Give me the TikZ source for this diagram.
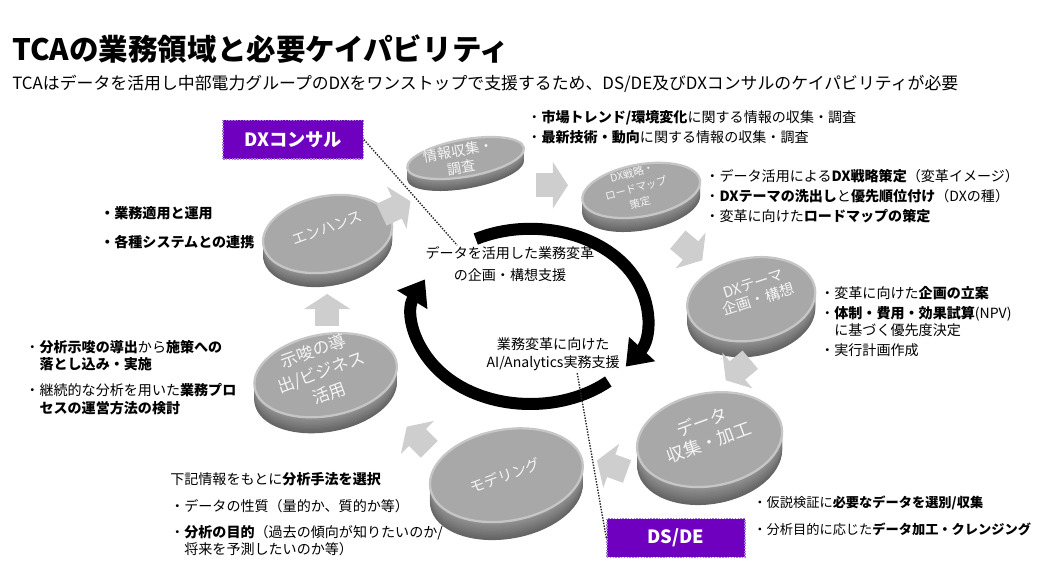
\documentclass[tikz,border=0pt]{standalone}
\usepackage{fontspec}
\setmainfont{Noto Sans CJK JP}
\usetikzlibrary{arrows.meta}

\definecolor{consul}{RGB}{112,0,192}
\definecolor{consulrim}{RGB}{165,120,215}
\definecolor{discface}{RGB}{168,168,168}
\definecolor{discrim}{RGB}{198,198,198}
\definecolor{disclight}{RGB}{150,150,150}
\definecolor{discdark}{RGB}{98,98,98}
\definecolor{flowgray}{RGB}{206,206,206}

% disc body: x, y, half width, half height, tilt, thickness
\newcommand{\discbody}[6]{%
  \foreach \k in {12,11,...,1}{%
    \pgfmathtruncatemacro{\mixval}{\k*8}%
    \fill[discdark!\mixval!disclight, shift={(#1,#2-#6*\k/12)}, rotate=#5]
      (0,0) ellipse[x radius=#3, y radius=#4];
  }%
  \filldraw[fill=discface, draw=discrim, line width=1.6pt, shift={(#1,#2)}, rotate=#5]
    (0,0) ellipse[x radius=#3, y radius=#4];
}

\begin{document}
\begin{tikzpicture}[
    every node/.style={inner sep=0pt},
    title/.style={font=\fontsize{21}{25}\selectfont\bfseries, anchor=west},
    subtitle/.style={font=\fontsize{12}{14}\selectfont, anchor=west},
    note/.style={font=\fontsize{10}{14.2}\selectfont, align=left, anchor=north west},
    ringtext/.style={font=\fontsize{10}{15.6}\selectfont, align=center},
    disctext/.style={text=white!92!gray, align=center},
    roleBox/.style={rectangle, fill=consul, draw=consulrim, densely dotted, line width=1pt, text=white, font=\fontsize{13}{15}\selectfont\bfseries, minimum width=3.5cm, minimum height=0.97cm},
    flowline/.style={line width=0.6cm, draw=flowgray, -{Triangle[length=0.38cm, width=1.15cm]}},
    ring/.style={line width=0.3cm, -{Triangle[length=0.6cm, width=0.85cm]}},
    guide/.style={densely dotted, line width=1pt, black!85}
]
\useasboundingbox (0,0) rectangle (26,-14.625);

% -------------------------
% Headers
% -------------------------
    \node[title] (head) at (0.3,-1.22) {TCAの業務領域と必要ケイパビリティ};
    \node[subtitle] (subhead) at (0.3,-2.1) {TCAはデータを活用し中部電力グループのDXをワンストップで支援するため、DS/DE及びDXコンサルのケイパビリティが必要};

% -------------------------
% Discs (clockwise from top)
% -------------------------
    \discbody{11.64}{-3.95}{1.48}{0.465}{10}{0.3}
    \node[disctext, rotate=10, font=\fontsize{10}{12}\selectfont] (jyoho) at (11.5,-3.98) {情報収集・\\調査};

    \discbody{16.03}{-4.76}{1.49}{0.65}{10}{0.35}
    \node[disctext, rotate=15, font=\fontsize{7.5}{11}\selectfont] (senryaku) at (15.9,-4.7) {DX戦略・\\ロードマップ\\策定};

    \discbody{18.78}{-7.48}{1.615}{1.03}{10}{0.4}
    \node[disctext, rotate=18, font=\fontsize{10.5}{11.5}\selectfont] (theme) at (18.9,-7.3) {DXテーマ\\企画・構想};

    \discbody{17.74}{-10.99}{1.83}{1.16}{10}{0.45}
    \node[disctext, rotate=20, font=\fontsize{12.5}{15.6}\selectfont] (data) at (17.63,-10.8) {データ\\収集・加工};

    \discbody{12.66}{-11.88}{1.93}{1.14}{10}{0.45}
    \node[disctext, rotate=20, font=\fontsize{10.5}{12}\selectfont] (model) at (12.63,-11.88) {モデリング};

    \discbody{8.14}{-9.38}{1.8}{1.02}{10}{0.4}
    \node[disctext, rotate=20, font=\fontsize{12}{16}\selectfont] (shisa) at (8.03,-9.3) {示唆の導\\出/ビジネス\\活用};

    \discbody{8.19}{-5.85}{1.63}{0.95}{10}{0.35}
    \node[disctext, rotate=20, font=\fontsize{10.5}{12}\selectfont] (enhance) at (8.18,-5.7) {エンハンス};

% -------------------------
% Flow arrows between discs
% -------------------------
    \path (9.9,-5.2) ++(205:0.4) coordinate (f1a) ++(25:0.8) coordinate (f1b);
    \path (13.8,-4.63) ++(180:0.4) coordinate (f2a) ++(0:0.8) coordinate (f2b);
    \path (17.25,-6.25) ++(140:0.4) coordinate (f3a) ++(-40:0.8) coordinate (f3b);
    \path (18.45,-9.25) ++(40:0.4) coordinate (f4a) ++(-140:0.8) coordinate (f4b);
    \path (15.3,-11.65) ++(-20:0.4) coordinate (f5a) ++(160:0.8) coordinate (f5b);
    \path (10.45,-10.95) ++(-45:0.4) coordinate (f6a) ++(135:0.8) coordinate (f6b);
    \path (8.18,-7.75) ++(-90:0.4) coordinate (f7a) ++(90:0.8) coordinate (f7b);
    \foreach \f in {f1,f2,f3,f4,f5,f6,f7}
        \draw[flowline] (\f a) -- (\f b);

% -------------------------
% Central cycle
% -------------------------
    \coordinate (hub) at (13.26,-7.91);
    \draw[ring] ([shift={(118:2.91 and 2.19)}]hub) arc[start angle=118, end angle=-35, x radius=2.91, y radius=2.19];
    \draw[ring] ([shift={(-48:2.91 and 2.19)}]hub) arc[start angle=-48, end angle=-205, x radius=2.91, y radius=2.19];

    \node[ringtext] (planText) at (12.75,-6.6) {データを活用した業務変革\\の企画・構想支援};
    \node[ringtext, font=\fontsize{10}{12.8}\selectfont] (aiText) at (13.83,-8.85) {業務変革に向けた\\AI/Analytics実務支援};

% -------------------------
% Role boxes & guides
% -------------------------
    \node[roleBox] (dxc) at (7.33,-3.49) {DXコンサル};
    \node[roleBox, minimum width=3.45cm] (dsde) at (16.9,-13.45) {DS/DE};

    \coordinate (consulEnd) at (11.43,-6.13);
    \coordinate (dsdeTop) at (14.43,-9.33);
    \draw[guide] (dxc.east) -- (consulEnd);
    \draw[guide] (dsdeTop) -- (dsde.west);

% -------------------------
% Notes
% -------------------------
    \node[note] (marketNote) at (13.18,-2.75) {・\textbf{市場トレンド/環境変化}に関する情報の収集・調査\\・\textbf{最新技術・動向}に関する情報の収集・調査};

    \node[note] (strategyNote) at (17.63,-4.23) {・データ活用による\textbf{DX戦略策定}（変革イメージ）\\・\textbf{DXテーマの洗出し}と\textbf{優先順位付け}（DXの種）\\・変革に向けた\textbf{ロードマップの策定}};

    \node[note] (themeNote) at (20.5,-7.15) {・変革に向けた\textbf{企画の立案}\\・\textbf{体制・費用・効果試算}(NPV)\\[-2.1pt]\hspace*{1em}に基づく優先度決定\\・実行計画作成};

    \node[note, font=\fontsize{10}{14}\selectfont\bfseries] (enhanceNote) at (2.5,-5.15) {・業務適用と運用\\[6.6pt]・各種システムとの連携};

    \node[note, font=\fontsize{10}{12.4}\selectfont] (shisaNote) at (0.63,-8.5) {・\textbf{分析示唆の導出}から\textbf{施策への}\\\hspace*{1em}\textbf{落とし込み・実施}\\[6pt]・継続的な分析を用いた\textbf{業務プロ}\\\hspace*{1em}\textbf{セスの運営方法の検討}};

    \node[note, font=\fontsize{10}{12}\selectfont] (modelNote) at (4.25,-11.8) {下記情報をもとに\textbf{分析手法を選択}\\[7pt]・データの性質（量的か、質的か等）\\[7pt]・\textbf{分析の目的}（過去の傾向が知りたいのか/\\\hspace*{1em}将来を予測したいのか等）};

    \node[note, font=\fontsize{9.4}{13.4}\selectfont] (dataNote) at (18.83,-12.4) {・仮説検証に\textbf{必要なデータを選別/収集}\\[5.8pt]・分析目的に応じた\textbf{データ加工・クレンジング}};
\end{tikzpicture}
\end{document}
